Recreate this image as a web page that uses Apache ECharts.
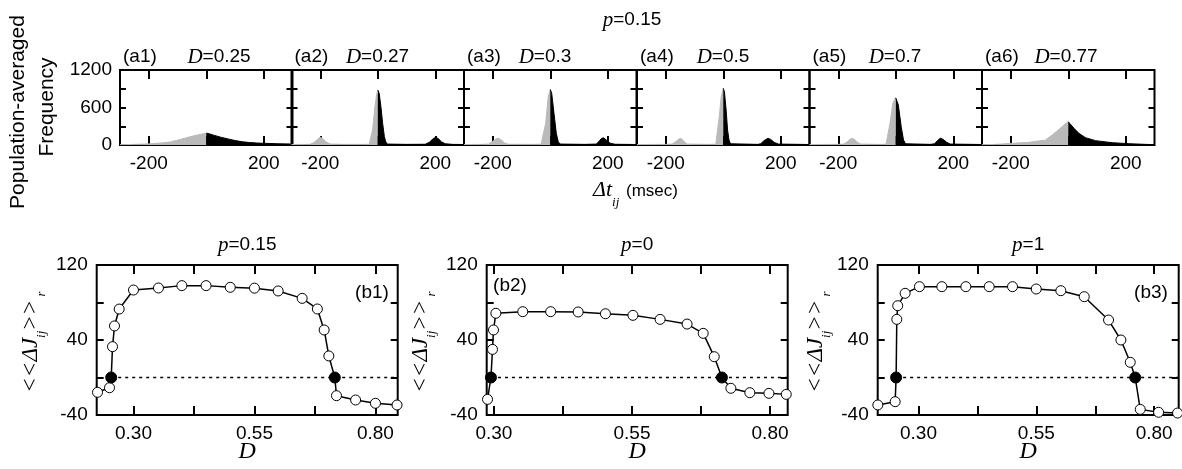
<!DOCTYPE html>
<html>
<head>
<meta charset="utf-8">
<script src="https://cdn.jsdelivr.net/npm/echarts@6/dist/echarts.min.js"></script>
<style>
html,body{margin:0;padding:0;background:#fff;}
#main{width:1182px;height:469px;}
</style>
</head>
<body>
<div id="main"></div>
<script>
// histograms [dt (msec), population-averaged frequency], p=0.15
var a1Hist = [[-300,5],[-250,10],[-200,18],[-150,35],[-125,50],[-100,78],[-75,108],[-50,140],[-25,165],[-10,180],[0,190],
  [10,180],[25,158],[50,125],[75,98],[100,72],[125,52],[150,40],[175,32],[200,27],[250,20],[300,15]];
var a2Hist = [[-300,8],[-250,10],[-235,12],[-222,40],[-210,90],[-200,125],[-190,95],[-178,45],[-165,15],[-120,10],[-60,10],
  [-30,12],[-25,40],[-18,240],[-10,613],[-4,800],[0,880],[3,870],[5,827],[11,613],[17,347],[23,133],[28,50],[33,15],
  [100,10],[165,12],[180,45],[192,100],[202,125],[212,95],[222,50],[235,20],[260,10],[300,8]];
var a3Hist = [[-300,8],[-240,10],[-215,15],[-200,60],[-188,100],[-180,108],[-170,80],[-158,30],[-145,12],[-60,10],
  [-32,12],[-28,30],[-16,347],[-7,773],[0,890],[5,827],[13,507],[21,187],[28,50],[35,15],
  [120,10],[160,15],[170,60],[178,105],[185,115],[195,80],[208,30],[225,12],[300,8]];
var a4Hist = [[-300,8],[-200,10],[-178,15],[-165,55],[-152,105],[-145,100],[-135,50],[-125,15],[-60,10],
  [-26,12],[-23,40],[-14,453],[-7,773],[0,907],[4,853],[10,560],[15,240],[20,80],[25,20],
  [120,10],[130,20],[142,70],[155,107],[165,90],[178,40],[192,15],[300,8]];
var a5Hist = [[-300,8],[-200,10],[-180,15],[-168,55],[-155,105],[-145,95],[-132,40],[-122,15],[-60,10],
  [-34,12],[-31,40],[-20,347],[-10,667],[-1,757],[0,755],[9,640],[19,293],[27,80],[34,20],
  [120,10],[135,20],[145,70],[155,110],[165,90],[178,40],[190,15],[300,8]];
var a6Hist = [[-300,5],[-252,10],[-195,27],[-137,43],[-79,80],[-56,160],[-32,251],[-15,320],[0,373],
  [20,267],[37,187],[60,117],[95,69],[153,37],[211,21],[269,10],[300,6]];

var histNames = ['(a1)', '(a2)', '(a3)', '(a4)', '(a5)', '(a6)'];
var histD = ['0.25', '0.27', '0.3', '0.5', '0.7', '0.77'];
var histData = [a1Hist, a2Hist, a3Hist, a4Hist, a5Hist, a6Hist];
var dtTicks = [-200, 0, 200];
var dtLabels = [-200, 200];

// <<dJij>>r vs D (open circles), and the zero crossings (filled circles)
var b1D = [0.2257,0.2505,0.2567,0.2608,0.2705,0.30,0.3516,0.40,0.45,0.50,0.55,0.599,0.6486,0.68,0.694,0.7037,0.7195,0.759,0.80,0.8446];
var b1J = [-15.8,-10.9,32.9,55,73,93.3,95.5,98,98,96.2,95.3,92.3,84.4,73.1,50.7,23,-19.4,-24,-27.5,-29.3];
var b1Cross = [0.254, 0.716];
var b2D = [0.2885,0.2975,0.2993,0.3036,0.3523,0.4028,0.4526,0.502,0.5518,0.601,0.6498,0.679,0.699,0.7291,0.7634,0.798,0.8294];
var b2J = [-23.3,30,50.7,68.5,70.2,70.2,69.9,68,66.3,62,57,47.1,22.2,-11.5,-16.2,-16.9,-18];
var b2Cross = [0.2947, 0.7129];
var b3D = [0.2138,0.2505,0.254,0.256,0.2717,0.302,0.3496,0.4005,0.45,0.4995,0.5498,0.602,0.6516,0.7032,0.7294,0.7492,0.7704,0.8093,0.8496];
var b3J = [-29.3,-25.8,62,76.6,89.8,96.9,96.9,96.9,96.9,96.9,94.4,92.6,86.2,61.3,40,16.2,-34,-37.1,-37.9];
var b3Cross = [0.2526, 0.7598];

var bP = ['0.15', '0', '1'];
var bNames = ['(b1)', '(b2)', '(b3)'];
var bD = [b1D, b2D, b3D], bJ = [b1J, b2J, b3J], bCross = [b1Cross, b2Cross, b3Cross];
var dTicks = [0.30, 0.425, 0.55, 0.675, 0.80];
var dLabels = [0.30, 0.55, 0.80];

// layout
var SANS = 'Liberation Sans, Arial, sans-serif';
var SERIF = 'Liberation Serif, Times New Roman, serif';
var GRAY = '#bababa';
var topLefts = [120, 291.5, 464, 637, 809.5, 982], topW = 172.5, topTop = 70, topH = 75;
var botLefts = [96.7, 486.7, 877.7], botW = 301, botTop = 265, botH = 150;
var botRange = [[0.224, 0.846], [0.287, 0.832], [0.2135, 0.852]];

var grids = [], xAxes = [], yAxes = [], series = [], graphics = [];
var noLine = {show: false, onZero: false};

function tick(len, vals) {
    var t = {inside: true, length: len, lineStyle: {color: '#000', width: 2}};
    if (vals) t.customValues = vals;
    return t;
}
function addGrid(left, top, w, h) {
    grids.push({left: left, top: top, width: w, height: h, show: true, borderColor: '#000', borderWidth: 2,
        backgroundColor: 'transparent', outerBoundsMode: 'none', containLabel: false});
    return grids.length - 1;
}
function text(x, y, str, rich, opt) {
    opt = opt || {};
    graphics.push({type: 'text', x: x, y: y, rotation: opt.rot || 0, silent: true,
        style: {text: str, x: 0, y: 0, align: opt.align || 'center', verticalAlign: opt.va || 'middle', fill: '#000',
            font: opt.font || ('19px ' + SANS), rich: rich}});
}
var labelFont = {fontSize: 19, fontFamily: SANS, color: '#000'};

// top row
histData.forEach(function (hist, i) {
    var g = addGrid(topLefts[i], topTop, topW, topH);
    var xb = xAxes.length;
    xAxes.push({gridIndex: g, type: 'value', min: -300, max: 300, position: 'bottom',
        axisLine: noLine, splitLine: {show: false}, axisTick: tick(9, dtTicks),
        axisLabel: Object.assign({customValues: dtLabels, margin: 9}, labelFont)});
    xAxes.push({gridIndex: g, type: 'value', min: -300, max: 300, position: 'top',
        axisLine: noLine, splitLine: {show: false}, axisTick: tick(9, dtTicks), axisLabel: {show: false}});
    var yl = yAxes.length;
    yAxes.push({gridIndex: g, type: 'value', min: 0, max: 1200, interval: 300, position: 'left',
        axisLine: noLine, splitLine: {show: false}, axisTick: tick(6),
        axisLabel: Object.assign({show: i === 0, margin: 8, formatter: function (v) { return v % 600 === 0 ? v : ''; }}, labelFont)});
    yAxes.push({gridIndex: g, type: 'value', min: 0, max: 1200, interval: 300, position: 'right',
        axisLine: noLine, splitLine: {show: false}, axisTick: tick(6), axisLabel: {show: false}});
    series.push({type: 'line', xAxisIndex: xb, yAxisIndex: yl, symbol: 'none', silent: true,
        data: hist.filter(function (p) { return p[0] <= 0; }),
        lineStyle: {color: GRAY, width: 1}, areaStyle: {color: GRAY, opacity: 1}});
    series.push({type: 'line', xAxisIndex: xb, yAxisIndex: yl, symbol: 'none', silent: true,
        data: hist.filter(function (p) { return p[0] >= 0; }),
        lineStyle: {color: '#000', width: 1}, areaStyle: {color: '#000', opacity: 1}});
});

// bottom row
bD.forEach(function (ds, i) {
    var g = addGrid(botLefts[i], botTop, botW, botH);
    var r = botRange[i];
    var xb = xAxes.length;
    xAxes.push({gridIndex: g, type: 'value', min: r[0], max: r[1], position: 'bottom',
        axisLine: noLine, splitLine: {show: false}, axisTick: tick(9, dTicks),
        axisLabel: Object.assign({customValues: dLabels, margin: 9, formatter: function (v) { return v.toFixed(2); }}, labelFont)});
    xAxes.push({gridIndex: g, type: 'value', min: r[0], max: r[1], position: 'top',
        axisLine: noLine, splitLine: {show: false}, axisTick: tick(9, dTicks), axisLabel: {show: false}});
    var yl = yAxes.length;
    yAxes.push({gridIndex: g, type: 'value', min: -40, max: 120, interval: 40, position: 'left',
        axisLine: noLine, splitLine: {show: false}, axisTick: tick(7),
        axisLabel: Object.assign({margin: 9, formatter: function (v) { return (v + 40) % 80 === 0 ? v : ''; }}, labelFont)});
    yAxes.push({gridIndex: g, type: 'value', min: -40, max: 120, interval: 40, position: 'right',
        axisLine: noLine, splitLine: {show: false}, axisTick: tick(7), axisLabel: {show: false}});

    var pts = ds.map(function (d, k) { return {value: [d, bJ[i][k]]}; });
    bCross[i].forEach(function (d) {
        pts.push({value: [d, 0], symbolSize: 11, itemStyle: {color: '#000'}});
    });
    pts.sort(function (a, b) { return a.value[0] - b.value[0]; });

    series.push({type: 'line', xAxisIndex: xb, yAxisIndex: yl, symbol: 'none', silent: true, z: 1,
        data: [[bCross[i][0], 0], [r[1], 0]],
        lineStyle: {color: '#000', width: 1.5, type: [3, 4]}});
    series.push({type: 'line', xAxisIndex: xb, yAxisIndex: yl, symbol: 'circle', symbolSize: 10, silent: true,
        clip: false, z: 3, data: pts,
        lineStyle: {color: '#000', width: 1.5},
        itemStyle: {color: '#fff', borderColor: '#000', borderWidth: 1}});
});

// texts
var pRich = {i: {fontFamily: SERIF, fontStyle: 'italic', fontSize: 21}, n: {fontFamily: SANS, fontSize: 19}};
text(632, 20, '{i|p}{n|=0.15}', pRich);
histNames.forEach(function (n, i) {
    text(topLefts[i] + 3, 57, n, null, {align: 'left'});
});
var dCenters = [219, 377.5, 545, 723, 895, 1066];
histD.forEach(function (d, i) {
    text(dCenters[i], 57, '{i|D}{n|=' + d + '}', pRich);
});
text(18, 112, 'Population-averaged', null, {rot: Math.PI / 2, font: '21px ' + SANS});
text(47, 107, 'Frequency', null, {rot: Math.PI / 2, font: '21px ' + SANS});
text(593, 194, '{m|Δt}{s|ij}', {
    m: {fontFamily: SERIF, fontStyle: 'italic', fontSize: 22, lineHeight: 24, verticalAlign: 'top'},
    s: {fontFamily: SERIF, fontStyle: 'italic', fontSize: 13, lineHeight: 30, verticalAlign: 'bottom'}
}, {align: 'left'});
text(626, 191, '(msec)', null, {align: 'left', font: '17px ' + SANS});

var jRich = {
    m: {fontFamily: SERIF, fontStyle: 'italic', fontSize: 23, lineHeight: 24, verticalAlign: 'top'},
    s: {fontFamily: SERIF, fontStyle: 'italic', fontSize: 13, lineHeight: 29, verticalAlign: 'bottom'}
};
var yNameX = [34, 424, 819];
bP.forEach(function (p, i) {
    var cx = botLefts[i] + botW / 2;
    text(cx, 245, '{i|p}{n|=' + p + '}', pRich);
    text(cx, 452, 'D', null, {font: 'italic 24px ' + SERIF});
    text(yNameX[i], 342, '{m|<<ΔJ}{s|ij}{m|>>}{s| r}', jRich, {rot: Math.PI / 2});
});
var bLabelPos = [[372, 293], [510, 286], [1151, 293]];
bNames.forEach(function (n, i) {
    text(bLabelPos[i][0], bLabelPos[i][1], n);
});

var chart = echarts.init(document.getElementById('main'), null, {renderer: 'canvas'});
chart.setOption({
    animation: false,
    backgroundColor: '#fff',
    grid: grids,
    xAxis: xAxes,
    yAxis: yAxes,
    series: series,
    graphic: graphics
});
</script>
</body>
</html>
